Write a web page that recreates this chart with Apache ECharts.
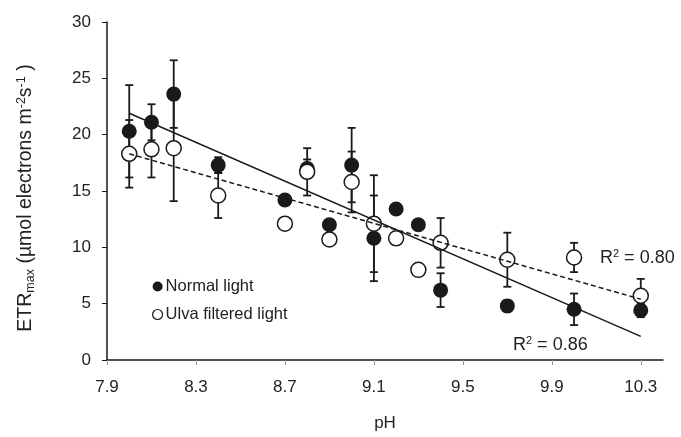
<!DOCTYPE html>
<html>
<head>
<meta charset="utf-8">
<script src="https://cdn.jsdelivr.net/npm/echarts@6/dist/echarts.min.js"></script>
<style>
html, body { margin: 0; padding: 0; background: #fff; }
#chart { width: 681px; height: 437px; }
</style>
</head>
<body>
<div id="chart"></div>
<script>
// pH of each treatment
var phValues = [8.0, 8.1, 8.2, 8.4, 8.7, 8.8, 8.9, 9.0, 9.1, 9.2, 9.3, 9.4, 9.7, 10.0, 10.3];

// ETRmax, normal light (filled) and Ulva filtered light (open)
var normalEtr = [20.3, 21.1, 23.6, 17.3, 14.2, 17.0, 12.0, 17.3, 10.8, 13.4, 12.0, 6.2, 4.8, 4.5, 4.4];
var normalErr = [4.1, 1.6, 3.0, 0.7, 0, 0.8, 0, 3.3, 3.8, 0, 0, 1.5, 0.5, 1.4, 0.6];
var ulvaEtr = [18.3, 18.7, 18.8, 14.6, 12.1, 16.7, 10.7, 15.8, 12.1, 10.8, 8.0, 10.4, 8.9, 9.1, 5.7];
var ulvaErr = [3.0, 2.5, 4.7, 2.0, 0, 2.1, 0, 2.7, 4.3, 0, 0, 2.2, 2.4, 1.3, 1.5];

// fitted lines, end points
var normalFit = [[8.0, 21.9], [10.3, 2.1]];
var ulvaFit = [[8.0, 18.3], [10.3, 5.4]];

var xTicks = [7.9, 8.3, 8.7, 9.1, 9.5, 9.9, 10.3];

var ink = '#1a1a1a';
var textColor = '#222';
var fontFamily = 'Liberation Sans, Arial, sans-serif';

function pairs(ys) {
    var out = [];
    for (var i = 0; i < phValues.length; i++) {
        out.push([phValues[i], ys[i]]);
    }
    return out;
}

function errorData(ys, errs) {
    var out = [];
    for (var i = 0; i < phValues.length; i++) {
        if (errs[i] > 0) {
            out.push([phValues[i], ys[i] - errs[i], ys[i] + errs[i]]);
        }
    }
    return out;
}

function renderErrorBar(params, api) {
    var low = api.coord([api.value(0), api.value(1)]);
    var high = api.coord([api.value(0), api.value(2)]);
    var half = 4;
    var style = { stroke: ink, lineWidth: 1.8 };
    return {
        type: 'group',
        children: [
            { type: 'line', shape: { x1: low[0], y1: low[1], x2: high[0], y2: high[1] }, style: style },
            { type: 'line', shape: { x1: low[0] - half, y1: low[1], x2: low[0] + half, y2: low[1] }, style: style },
            { type: 'line', shape: { x1: high[0] - half, y1: high[1], x2: high[0] + half, y2: high[1] }, style: style }
        ]
    };
}

function r2Label(text) {
    return {
        text: '{a|R}{s|2}{a| = ' + text + '}',
        rich: {
            a: { fontSize: 18, fill: textColor, fontFamily: fontFamily, lineHeight: 20 },
            s: { fontSize: 11, fill: textColor, fontFamily: fontFamily, verticalAlign: 'top', lineHeight: 11 }
        }
    };
}

var chart = echarts.init(document.getElementById('chart'));

var option = {
    animation: false,
    textStyle: { fontFamily: fontFamily, color: textColor },
    grid: { left: 107, right: 18, top: 22, bottom: 74 },
    legend: {
        orient: 'vertical',
        left: 147,
        top: 273,
        itemWidth: 10,
        itemHeight: 10,
        itemGap: 11,
        textStyle: { fontSize: 16.5, color: textColor, fontFamily: fontFamily, padding: [0, 0, 0, -2] },
        data: [
            { name: 'Normal light', icon: 'circle', itemStyle: { color: ink, borderWidth: 0 } },
            { name: 'Ulva filtered light', icon: 'circle', itemStyle: { color: '#fff', borderColor: ink, borderWidth: 1.2 } }
        ]
    },
    xAxis: {
        type: 'value',
        min: 7.9,
        max: 10.4,
        interval: 0.4,
        name: 'pH',
        nameLocation: 'middle',
        nameGap: 55,
        nameTextStyle: { fontSize: 17, color: textColor },
        axisLine: { lineStyle: { color: ink, width: 1.5 } },
        axisTick: { show: true, inside: false, length: 5, lineStyle: { color: '#999' }, customValues: xTicks },
        axisLabel: {
            fontSize: 17, color: textColor, margin: 19,
            customValues: xTicks,
            formatter: function (v) { return v.toFixed(1); }
        },
        splitLine: { show: false }
    },
    yAxis: {
        type: 'value',
        min: 0,
        max: 30,
        interval: 5,
        name: '{a|ETR}{sub|max}{a| (µmol electrons m}{sup|-2}{a|s}{sup|-1}{a| )}',
        nameLocation: 'middle',
        nameRotate: 90,
        nameGap: 70,
        nameTextStyle: {
            padding: [0, 14, 0, 0],
            rich: {
                a: { fontSize: 19.5, color: textColor, fontFamily: fontFamily, lineHeight: 22 },
                sub: { fontSize: 12.5, color: textColor, fontFamily: fontFamily, verticalAlign: 'bottom', lineHeight: 12, padding: [10, 0, 0, 0] },
                sup: { fontSize: 12.5, color: textColor, fontFamily: fontFamily, verticalAlign: 'top', lineHeight: 12 }
            }
        },
        axisLine: { show: true, lineStyle: { color: ink, width: 1.5 } },
        axisTick: { show: true, inside: false, length: 5, lineStyle: { color: ink } },
        axisLabel: { fontSize: 17, color: textColor, margin: 16 },
        splitLine: { show: false }
    },
    graphic: [
        { type: 'text', left: 600, top: 248, style: r2Label('0.80') },
        { type: 'text', left: 513, top: 335, style: r2Label('0.86') }
    ],
    series: [
        {
            name: 'Normal light err',
            type: 'custom',
            renderItem: renderErrorBar,
            data: errorData(normalEtr, normalErr),
            z: 2
        },
        {
            name: 'Ulva filtered light err',
            type: 'custom',
            renderItem: renderErrorBar,
            data: errorData(ulvaEtr, ulvaErr),
            z: 2
        },
        {
            name: 'Normal light',
            type: 'scatter',
            symbol: 'circle',
            symbolSize: 15,
            itemStyle: { color: ink, opacity: 1 },
            data: pairs(normalEtr),
            z: 3
        },
        {
            name: 'Ulva filtered light',
            type: 'scatter',
            symbol: 'circle',
            symbolSize: 15,
            itemStyle: { color: '#fff', borderColor: ink, borderWidth: 1.5, opacity: 1 },
            data: pairs(ulvaEtr),
            z: 3
        },
        {
            name: 'Normal fit',
            type: 'line',
            data: normalFit,
            symbol: 'none',
            lineStyle: { color: ink, width: 1.5 },
            z: 4
        },
        {
            name: 'Ulva fit',
            type: 'line',
            data: ulvaFit,
            symbol: 'none',
            lineStyle: { color: ink, width: 1.5, type: [5, 3] },
            z: 4
        }
    ]
};

chart.setOption(option);
</script>
</body>
</html>
